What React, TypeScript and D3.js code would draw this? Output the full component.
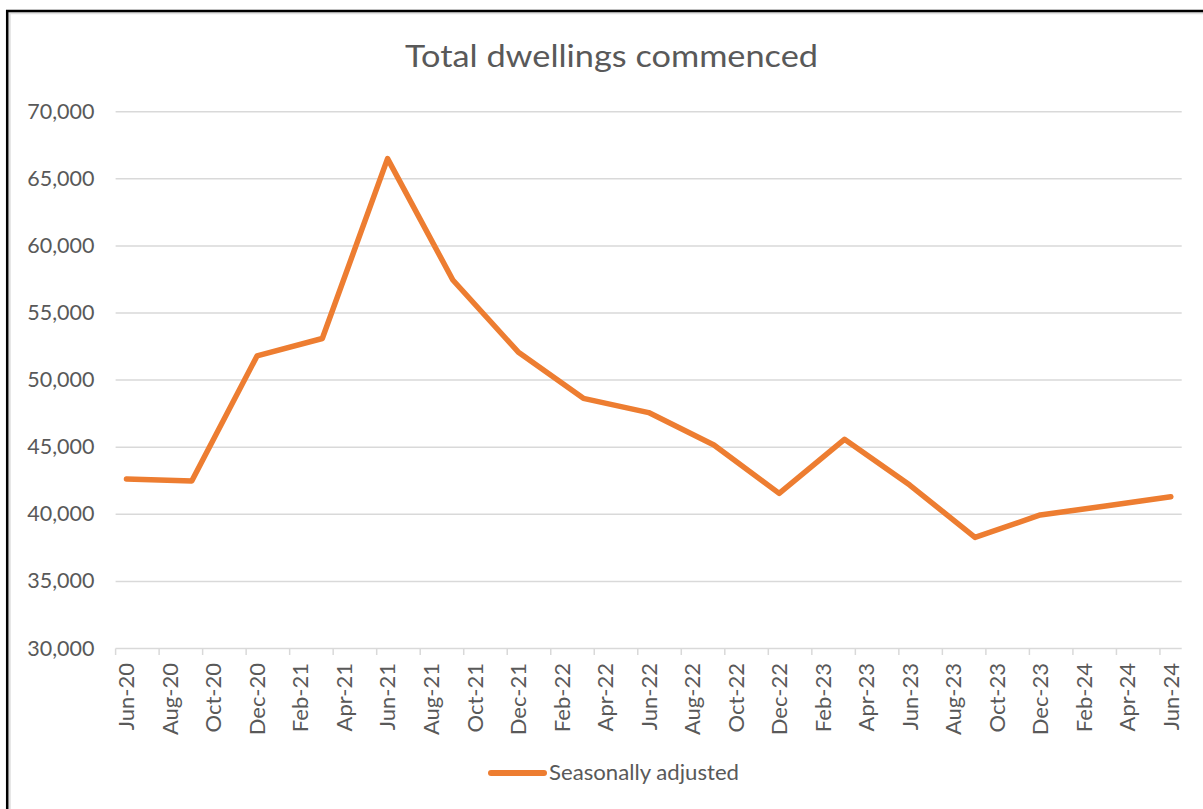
import React from "react";
import * as d3 from "d3";

const title = "Total dwellings commenced";
const seriesName = "Seasonally adjusted";
const quarters = ["Jun-20","Sep-20","Dec-20","Mar-21","Jun-21","Sep-21","Dec-21","Mar-22","Jun-22","Sep-22","Dec-22","Mar-23","Jun-23","Sep-23","Dec-23","Mar-24","Jun-24"];
const values = [42630, 42480, 51800, 53100, 66500, 57460, 52100, 48640, 47580, 45160, 41560, 45590, 42180, 38280, 39950, 40620, 41310];
const xTickLabels = ["Jun-20","Aug-20","Oct-20","Dec-20","Feb-21","Apr-21","Jun-21","Aug-21","Oct-21","Dec-21","Feb-22","Apr-22","Jun-22","Aug-22","Oct-22","Dec-22","Feb-23","Apr-23","Jun-23","Aug-23","Oct-23","Dec-23","Feb-24","Apr-24","Jun-24"];
const yTicks = [30000, 35000, 40000, 45000, 50000, 55000, 60000, 65000, 70000];

const W = 1203, H = 809;
const FONT = "Lato, 'Open Sans', sans-serif";
const TEXT = "#595959";
const GRID = "#d9d9d9";
const ORANGE = "#ED7D31";

const parse = d3.timeParse("%b-%y");
const start = parse(xTickLabels[0]) as Date;
const monthIdx = (s: string) => d3.timeMonth.count(start, parse(s) as Date);
const nMonths = monthIdx(xTickLabels[xTickLabels.length - 1]) + 1;

const x = d3.scaleLinear().domain([0, nMonths]).range([115.6, 1181.7]);
const y = d3.scaleLinear().domain([30000, 70000]).range([648.5, 111.7]);
const fmt = d3.format(",");

export default function App() {
  const pts: [number, number][] = quarters.map((q, i) => [x(monthIdx(q) + 0.5), y(values[i])]);
  const line = d3.line()(pts) as string;
  const [x0, x1] = x.range();
  return (
    <svg width={W} height={H} style={{ position: "absolute", left: 0, top: 0, background: "#fff" }} fontFamily={FONT}>
      <rect x={0} y={0} width={W} height={H} fill="#fff" />
      {/* frame */}
      <path d={`M9.5,${H + 5} V13 H${W + 5}`} fill="none" stroke="#e0e0e0" strokeWidth={2.5} />
      <path d={`M7.2,${H + 5} V11 H${W + 5}`} fill="none" stroke="#000" strokeWidth={2.5} />
      <text x={611.5} y={66.7} textAnchor="middle" fontSize={30} fill={TEXT} textLength={413} lengthAdjust="spacingAndGlyphs">{title}</text>
      {yTicks.map((t) => (
        <g key={t}>
          <line x1={x0} x2={x1} y1={y(t)} y2={y(t)} stroke={GRID} strokeWidth={1.5} />
          <text x={94.5} y={y(t) + 7} textAnchor="end" fontSize={21.5} fill={TEXT}>{fmt(t)}</text>
        </g>
      ))}
      {xTickLabels.map((l, k) => (
        <g key={l}>
          <line x1={x(2 * k)} x2={x(2 * k)} y1={y(30000)} y2={y(30000) + 6.5} stroke={GRID} strokeWidth={1.5} />
          <text transform={`translate(${x(2 * k + 0.5)},663) rotate(-90)`} textAnchor="end" dy="0.36em" fontSize={22} fill={TEXT}>{l}</text>
        </g>
      ))}
      <path d={line} fill="none" stroke={ORANGE} strokeWidth={5.5} strokeLinejoin="round" strokeLinecap="round" />
      <line x1={491} x2={544} y1={773} y2={773} stroke={ORANGE} strokeWidth={6} strokeLinecap="round" />
      <text x={549} y={780} fontSize={20.5} fill={TEXT} textLength={190} lengthAdjust="spacingAndGlyphs">{seriesName}</text>
    </svg>
  );
}
